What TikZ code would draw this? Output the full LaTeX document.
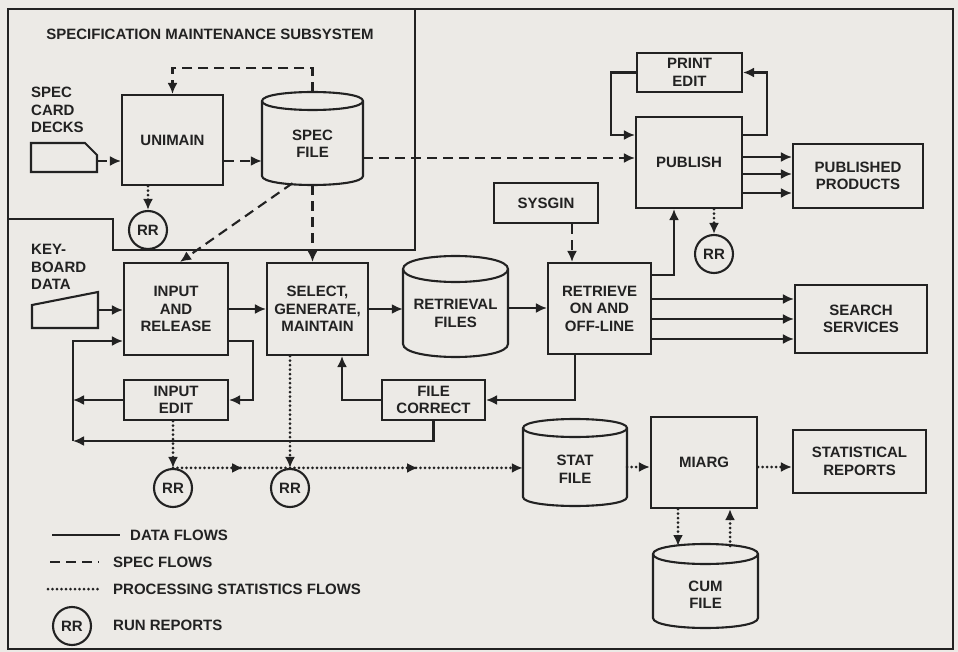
\documentclass[tikz,border=0pt]{standalone}
\usepackage{fontspec}
\setmainfont{Liberation Sans}
\usetikzlibrary{arrows.meta,decorations.markings,calc}
\definecolor{paper}{HTML}{ECEAE6}
\definecolor{ink}{HTML}{222222}
\newcommand\drawcyl[5]{%
  \draw[data, fill=paper] (#1,#2+#5) -- (#1,#4-#5) .. controls (#1,#4-#5+1.333*#5) and (#3,#4-#5+1.333*#5) .. (#3,#4-#5) -- (#3,#2+#5) .. controls (#3,#2+#5-1.333*#5) and (#1,#2+#5-1.333*#5) .. (#1,#2+#5) -- cycle;
  \draw[data] (#1,#2+#5) .. controls (#1,#2+#5+1.333*#5) and (#3,#2+#5+1.333*#5) .. (#3,#2+#5);
}
\begin{document}
\begin{tikzpicture}[x=1pt,y=-1pt,
  every node/.style={font=\fontsize{15}{17.5}\selectfont\bfseries, text=ink, inner sep=0pt, align=center},
  box/.style={draw=ink, line width=2.1pt, fill=paper},
  data/.style={draw=ink, line width=2.1pt},
  spec/.style={data, dash pattern=on 10pt off 6pt},
  stat/.style={data, line width=3pt, line cap=round, dash pattern=on 0pt off 4.5pt},
  tip/.style={-{Latex[length=11pt,width=10pt]}},
  midtip/.style={postaction={decorate}, decoration={markings, mark=at position #1 with {\arrow{Latex[length=11pt,width=10pt]}}}},
  rr/.style={draw=ink, line width=2.1pt, circle, minimum size=38pt, fill=paper},
]
\fill[paper] (0,0) rectangle (958,652);
\useasboundingbox (0,0) rectangle (958,652);

% frames
\draw[draw=ink, line width=2.5pt] (8,9) rectangle (953,649);
\draw[data] (415,9) -- (415,250) -- (113,250) -- (113,219) -- (8,219);
\node (title) at (210,34) {SPECIFICATION MAINTENANCE SUBSYSTEM};

% input media
\node[anchor=west, align=left] (cardlbl) at (31,110) {SPEC\\CARD\\DECKS};
\draw[data, fill=paper] (31,143) -- (85,143) -- (97,155) -- (97,172) -- (31,172) -- cycle;
\coordinate (card) at (97,161);
\node[anchor=west, align=left] (kbdlbl) at (31,267) {KEY-\\BOARD\\DATA};
\draw[data, fill=paper] (32,305) -- (98,292) -- (98,328) -- (32,328) -- cycle;
\coordinate (kbd) at (98,310);

% cylinders
\drawcyl{262}{92}{363}{185}{9}
\drawcyl{403}{256}{508}{357}{13}
\drawcyl{523}{419}{627}{506}{9}
\drawcyl{653}{544}{758}{628}{10}
\node[minimum width=101pt, minimum height=93pt] (specfile) at (312.5,138.5) {};
\node (specfileT) at (312.5,144) {SPEC\\FILE};
\node[minimum width=105pt, minimum height=101pt] (retrfiles) at (455.5,306.5) {};
\node (retrfilesT) at (455.5,313.5) {RETRIEVAL\\FILES};
\node[minimum width=104pt, minimum height=87pt] (statfile) at (575,462.5) {};
\node (statfileT) at (575,469.5) {STAT\\FILE};
\node[minimum width=105pt, minimum height=84pt] (cumfile) at (705.5,586) {};
\node (cumfileT) at (705.5,595) {CUM\\FILE};

% boxes
\node[box, minimum width=101pt, minimum height=90pt] (unimain) at (172.5,140) {UNIMAIN};
\node[box, minimum width=105pt, minimum height=39pt] (printedit) at (689.5,72.5) {PRINT\\EDIT};
\node[box, minimum width=106pt, minimum height=91pt] (publish) at (689,162.5) {PUBLISH};
\node[box, minimum width=130pt, minimum height=64pt] (pubprod) at (858,176) {PUBLISHED\\PRODUCTS};
\node[box, minimum width=104pt, minimum height=40pt] (sysgin) at (546,203) {SYSGIN};
\node[box, minimum width=104pt, minimum height=92pt] (iar) at (176,309) {INPUT\\AND\\RELEASE};
\node[box, minimum width=101pt, minimum height=92pt] (select) at (317.5,309) {SELECT,\\GENERATE,\\MAINTAIN};
\node[box, minimum width=103pt, minimum height=91pt] (retrieve) at (599.5,308.5) {RETRIEVE\\ON AND\\OFF-LINE};
\node[box, minimum width=132pt, minimum height=68pt] (search) at (861,319) {SEARCH\\SERVICES};
\node[box, minimum width=104pt, minimum height=40pt] (inputedit) at (176,400) {INPUT\\EDIT};
\node[box, minimum width=103pt, minimum height=40pt] (filecorrect) at (433.5,400) {FILE\\CORRECT};
\node[box, minimum width=106pt, minimum height=91pt] (miarg) at (704,462.5) {MIARG};
\node[box, minimum width=133pt, minimum height=63pt] (statrep) at (859.5,461.5) {STATISTICAL\\REPORTS};

% run report circles
\node[rr] (rr1) at (148,230) {RR};
\node[rr] (rr2) at (714,254) {RR};
\node[rr] (rr3) at (173,488) {RR};
\node[rr] (rr4) at (290,488) {RR};

% spec flows
\draw[spec,tip] (card) -- (card -| unimain.west);
\draw[spec,tip] (unimain.east |- card) -- (specfile.west |- card);
\draw[spec,tip] (specfile.east |- 0,158) -- (publish.west |- 0,158);
\draw[spec,tip] (specfile.north) -- (specfile.north |- 0,68) -| (unimain.north);
\draw[spec,tip] ([xshift=-20pt,yshift=2pt]specfile.south) -- ([xshift=4pt]iar.north);
\draw[spec,tip] (specfile.south) -- (specfile.south |- select.north);
\draw[spec,tip] ([xshift=26pt]sysgin.south) -- ([xshift=26pt]sysgin.south |- retrieve.north);

% data flows
\draw[data,tip] (kbd) -- (kbd -| iar.west);
\draw[data,tip] (iar.east) -- (select.west);
\draw[data,tip] (select.east) -- (select.east -| retrfiles.west);
\draw[data,tip] (retrfiles.east |- 0,308) -- (retrieve.west |- 0,308);
\draw[data,tip] ([yshift=-13pt]retrieve.north east) -| ([xshift=-15pt]publish.south);
\draw[data,tip] (printedit.west) -- ++(-25,0) |- (publish.west |- 0,135);
\draw[data,tip] (publish.east |- 0,135) -- ++(24,0) |- (printedit.east);
\foreach \yy in {157,174,193} \draw[data,tip] (publish.east |- 0,\yy) -- (pubprod.west |- 0,\yy);
\foreach \yy in {299,319,339} \draw[data,tip] (retrieve.east |- 0,\yy) -- (search.west |- 0,\yy);
\draw[data,tip] ([xshift=-24.5pt]retrieve.south) |- (filecorrect.east);
\draw[data,tip] (filecorrect.west) -| ([xshift=24.5pt]select.south);
\coordinate (bus) at (73,441);
\draw[data,tip] (filecorrect.south) |- (bus);
\draw[data,tip] (inputedit.west) -- (bus |- inputedit.west);
\draw[data,tip] (bus) -- (bus |- 0,341) -- (iar.west |- 0,341);
\draw[data,tip] (iar.east |- 0,341) -- ++(24,0) |- (inputedit.east);

% processing statistics flows
\draw[stat,tip] (rr1 |- unimain.south) -- (rr1.north);
\draw[stat,tip] (rr2 |- publish.south) -- (rr2.north);
\draw[stat,tip] (rr3 |- inputedit.south) -- (rr3.north);
\draw[stat,tip] (rr4 |- select.south) -- (rr4.north);
\draw[stat,midtip=0.6] (rr3.north) -- (rr4.north);
\draw[stat,tip,midtip=0.55] (rr4.north) -- (statfile.west |- rr4.north);
\draw[stat,tip] (statfile.east |- 0,467) -- (miarg.west |- 0,467);
\draw[stat,tip] (miarg.east |- 0,467) -- (statrep.west |- 0,467);
\coordinate (cumA) at (678,546);
\coordinate (cumB) at (730,546);
\draw[stat,tip] (cumA |- miarg.south) -- (cumA);
\draw[stat,tip] (cumB) -- (cumB |- miarg.south);

% legend
\draw[data] (52,535) -- (120,535);
\node[anchor=west] (lg1) at (130,535) {DATA FLOWS};
\draw[spec] (50,562) -- (99,562);
\node[anchor=west] (lg2) at (113,562) {SPEC FLOWS};
\draw[stat] (48,589) -- (100,589);
\node[anchor=west] (lg3) at (113,589) {PROCESSING STATISTICS FLOWS};
\node[rr] (rr5) at (72,626) {RR};
\node[anchor=west] (lg4) at (113,625) {RUN REPORTS};
\end{tikzpicture}
\end{document}
